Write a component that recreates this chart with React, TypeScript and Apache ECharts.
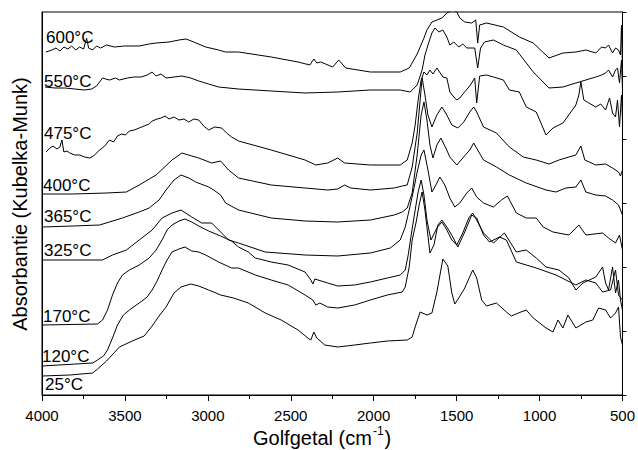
import React, { useEffect, useRef } from "react";
import * as echarts from "echarts";

// Wavenumber (cm^-1) vs. Kubelka-Munk absorbance (arbitrary, stacked offsets)
const s600: number[][] = [[3976,343],[3940,345],[3916,347],[3892,344],[3868,348],[3844,346],[3821,349],[3797,345],[3773,348],[3749,346],[3731,357],[3719,347],[3695,345],[3671,349],[3647,347],[3611,350],[3563,348],[3503,349],[3414,349],[3354,351],[3312,352],[3234,353],[3174,355],[3132,356],[3085,353],[3013,348],[2935,345],[2893,343],[2815,343],[2618,338],[2456,333],[2385,330],[2361,336],[2343,332],[2319,333],[2247,328],[2211,335],[2169,327],[2020,323],[1840,323],[1786,327],[1738,341],[1697,357],[1679,365],[1649,373],[1619,375],[1589,377],[1559,382],[1523,385],[1499,383],[1481,377],[1451,373],[1409,372],[1385,375],[1373,352],[1361,370],[1320,372],[1218,368],[1122,358],[1038,352],[943,337],[859,342],[781,343],[721,345],[661,342],[626,348],[602,347],[584,350],[560,342],[542,347],[524,345],[512,340],[506,370],[500,325]];

const s550: number[][] = [[3982,308],[3922,307],[3862,307],[3803,306],[3743,305],[3701,306],[3671,309],[3653,313],[3635,317],[3617,316],[3593,315],[3557,317],[3533,315],[3485,317],[3444,318],[3402,318],[3366,320],[3336,323],[3312,319],[3282,321],[3252,317],[3204,318],[3156,319],[3103,317],[3055,314],[2995,311],[2935,308],[2815,306],[2618,304],[2414,302],[2217,303],[2020,305],[1840,305],[1780,303],[1738,310],[1708,325],[1691,340],[1667,353],[1649,362],[1631,367],[1607,363],[1583,365],[1559,358],[1541,350],[1517,353],[1487,348],[1463,351],[1439,347],[1391,347],[1373,327],[1356,347],[1332,353],[1278,355],[1218,350],[1140,345],[1038,323],[943,307],[859,308],[781,312],[721,315],[661,318],[626,320],[602,322],[584,325],[560,318],[542,325],[530,327],[518,312],[506,335],[500,305]];

const s475: number[][] = [[3976,243],[3952,247],[3934,249],[3910,246],[3892,248],[3880,255],[3868,243],[3850,244],[3832,242],[3803,240],[3773,240],[3743,238],[3713,237],[3689,239],[3671,242],[3653,245],[3635,247],[3617,250],[3593,255],[3569,253],[3545,259],[3521,261],[3497,260],[3473,264],[3444,265],[3414,267],[3384,269],[3354,271],[3336,274],[3306,276],[3282,277],[3258,279],[3234,276],[3204,278],[3174,275],[3144,276],[3115,273],[3085,276],[3055,275],[3025,269],[2995,265],[2959,268],[2917,267],[2887,262],[2857,258],[2815,254],[2618,245],[2414,235],[2349,230],[2277,232],[2217,237],[2175,232],[2020,230],[1840,230],[1798,235],[1768,252],[1750,270],[1732,295],[1714,315],[1697,323],[1679,320],[1661,325],[1643,321],[1619,327],[1583,318],[1559,317],[1541,303],[1517,298],[1499,295],[1481,297],[1457,302],[1421,309],[1391,317],[1379,292],[1361,319],[1320,320],[1278,318],[1218,315],[1182,305],[1122,303],[1080,288],[1020,283],[961,260],[919,267],[859,272],[811,283],[781,290],[763,300],[751,313],[733,295],[703,292],[661,288],[631,291],[602,285],[578,297],[560,282],[542,278],[530,295],[518,268],[506,300],[500,275]];

const s400: number[][] = [[4000,201],[3815,201],[3611,202],[3491,203],[3414,210],[3312,220],[3216,235],[3156,242],[3097,239],[3055,237],[2977,232],[2923,234],[2875,225],[2815,217],[2618,210],[2414,207],[2277,205],[2217,206],[2175,210],[2139,207],[2020,205],[1876,207],[1828,209],[1798,210],[1768,228],[1738,262],[1720,295],[1708,317],[1691,300],[1673,280],[1649,268],[1619,280],[1589,288],[1559,280],[1529,270],[1493,267],[1457,273],[1421,283],[1397,288],[1379,283],[1338,268],[1260,262],[1182,248],[1098,238],[1020,235],[943,231],[883,235],[823,238],[781,240],[751,249],[727,235],[661,230],[602,231],[560,227],[524,223],[512,219],[500,225]];

const s365: number[][] = [[4000,168],[3815,169],[3653,170],[3515,177],[3414,183],[3354,187],[3294,195],[3252,205],[3204,215],[3162,220],[3115,217],[3073,213],[2995,208],[2965,205],[2923,200],[2893,192],[2815,185],[2618,177],[2414,174],[2217,173],[2020,175],[1876,180],[1828,183],[1798,187],[1768,202],[1738,240],[1714,280],[1697,293],[1679,275],[1661,250],[1643,237],[1619,250],[1595,257],[1565,247],[1541,238],[1499,230],[1463,237],[1421,245],[1397,252],[1373,245],[1338,235],[1260,228],[1182,220],[1080,212],[961,205],[901,203],[841,207],[781,208],[751,215],[721,203],[661,200],[602,199],[560,195],[524,190],[512,185],[500,180]];

const s325: number[][] = [[4000,135],[3635,135],[3575,140],[3491,145],[3414,155],[3336,165],[3276,177],[3216,182],[3162,185],[3097,178],[3037,172],[2977,172],[2935,165],[2875,155],[2815,152],[2654,143],[2414,140],[2217,139],[2020,142],[1900,147],[1840,155],[1810,168],[1786,185],[1762,203],[1738,223],[1714,240],[1697,245],[1673,225],[1649,203],[1625,210],[1601,218],[1571,210],[1541,197],[1511,188],[1481,192],[1439,202],[1409,207],[1379,198],[1338,192],[1278,188],[1230,195],[1194,199],[1140,182],[1080,177],[1020,177],[978,168],[919,163],[823,160],[763,170],[721,160],[620,162],[584,157],[542,152],[518,160],[500,145]];

const s170: number[][] = [[4000,70],[3665,71],[3635,75],[3605,85],[3575,100],[3545,112],[3515,120],[3473,125],[3414,130],[3354,137],[3312,145],[3276,155],[3246,165],[3216,170],[3174,174],[3138,176],[3097,173],[3055,169],[2995,164],[2923,159],[2857,154],[2815,148],[2756,143],[2714,137],[2618,133],[2516,130],[2414,123],[2379,115],[2367,111],[2355,116],[2277,112],[2217,109],[2115,110],[2020,113],[1918,117],[1840,120],[1810,125],[1792,140],[1774,160],[1750,185],[1732,203],[1714,215],[1697,200],[1679,175],[1655,155],[1619,167],[1589,173],[1559,165],[1529,155],[1499,150],[1463,162],[1427,177],[1403,182],[1373,173],[1338,162],[1278,152],[1212,162],[1140,143],[1080,145],[1020,137],[961,128],[883,125],[823,117],[781,105],[739,112],[661,118],[620,128],[602,112],[584,105],[560,128],[542,102],[524,115],[512,95],[500,85]];

const s120: number[][] = [[4000,29],[3695,32],[3665,35],[3629,39],[3605,45],[3575,57],[3545,70],[3509,80],[3473,85],[3414,92],[3366,98],[3336,105],[3306,114],[3276,125],[3246,135],[3216,143],[3174,146],[3138,148],[3097,144],[3055,143],[3013,140],[2935,133],[2857,127],[2815,127],[2714,120],[2618,115],[2516,110],[2414,100],[2367,95],[2349,90],[2325,92],[2277,88],[2217,87],[2115,90],[2020,95],[1918,100],[1828,103],[1810,108],[1786,128],[1768,155],[1744,173],[1726,190],[1708,203],[1691,185],[1661,142],[1637,150],[1613,170],[1589,175],[1559,168],[1523,158],[1493,148],[1451,163],[1409,180],[1379,177],[1338,160],[1302,153],[1242,158],[1200,155],[1140,133],[1020,127],[901,120],[781,110],[721,115],[661,112],[620,103],[572,105],[542,125],[524,100],[500,95]];

const s25: number[][] = [[4000,19],[3832,20],[3695,22],[3665,26],[3611,34],[3533,48],[3456,54],[3384,59],[3336,69],[3294,79],[3252,88],[3204,102],[3162,108],[3103,111],[3055,109],[2995,105],[2923,100],[2845,97],[2756,92],[2654,82],[2558,75],[2456,65],[2397,57],[2379,55],[2361,63],[2343,57],[2295,50],[2217,48],[2115,50],[2020,52],[1918,54],[1798,55],[1768,58],[1750,68],[1720,83],[1679,80],[1649,82],[1619,103],[1583,136],[1553,129],[1529,102],[1511,91],[1487,97],[1451,107],[1403,125],[1379,117],[1349,95],[1320,89],[1260,92],[1200,83],[1170,79],[1128,82],[1080,85],[1038,77],[961,67],[919,63],[889,75],[859,67],[829,80],[781,67],[721,73],[679,75],[644,87],[602,85],[572,77],[542,82],[524,88],[512,58],[500,50]];

const temperatures = ["600°C", "550°C", "475°C", "400°C", "365°C", "325°C", "170°C", "120°C", "25°C"];
const spectra = [s600, s550, s475, s400, s365, s325, s170, s120, s25];
const xMin = 500;
const xMax = 4000;
const xStep = 500;
const yMax = 383;

const FONT = '"Liberation Sans", Arial, Helvetica, sans-serif';

export default function App() {
  const ref = useRef<HTMLDivElement>(null);

  useEffect(() => {
    document.body.style.margin = "0";
    if (!ref.current) return;
    const chart = echarts.init(ref.current, undefined, { renderer: "svg" });

    const labelPos = [
      [46, 37], [44, 81], [44, 133], [43, 185], [44, 216], [44, 250], [43, 316], [42, 356], [45, 384],
    ];

    const option: any = {
      animation: false,
      backgroundColor: "#fff",
      grid: {
        left: 42, right: 11, top: 12, bottom: 55,
        show: true, borderColor: "#000", borderWidth: 1, backgroundColor: "transparent",
      },
      xAxis: {
        type: "value",
        min: xMin,
        max: xMax,
        interval: xStep,
        inverse: true,
        axisLine: { show: true, lineStyle: { color: "#000", width: 1 } },
        axisTick: { show: true, inside: false, length: 6, lineStyle: { color: "#000" } },
        minorTick: { show: true, splitNumber: 2, length: 4, lineStyle: { color: "#000" } },
        splitLine: { show: false },
        axisLabel: {
          color: "#000", fontSize: 15, fontFamily: FONT, margin: 13,
          formatter: (v: number) => String(v),
        },
      },
      yAxis: [
        {
          type: "value",
          min: 0,
          max: yMax,
          position: "left",
          axisLine: { show: true, lineStyle: { color: "#000" } },
          axisTick: { show: false },
          axisLabel: { show: false },
          splitLine: { show: false },
        },
        {
          type: "value",
          min: 0,
          max: yMax,
          interval: yMax / 6,
          position: "right",
          axisLine: { show: true, lineStyle: { color: "#000" } },
          axisTick: { show: true, inside: false, length: 4, lineStyle: { color: "#000" } },
          axisLabel: { show: false },
          splitLine: { show: false },
        },
      ],
      series: spectra.map((d, i) => ({
        name: temperatures[i],
        type: "line",
        data: d,
        yAxisIndex: 0,
        showSymbol: false,
        symbol: "none",
        clip: true,
        lineStyle: { color: "#000", width: 1 },
        z: 2,
      })),
      graphic: [
        ...temperatures.map((t, i) => ({
          type: "text",
          x: labelPos[i][0],
          y: labelPos[i][1],
          style: {
            text: t,
            fontSize: 17,
            fontFamily: FONT,
            fill: "#000",
            textAlign: "left",
            textVerticalAlign: "middle",
          },
          z: 10,
        })),
        {
          type: "text",
          x: 20,
          y: 204,
          rotation: Math.PI / 2,
          style: {
            text: "Absorbantie (Kubelka-Munk)",
            fontSize: 20,
            fontFamily: FONT,
            fill: "#000",
            textAlign: "center",
            textVerticalAlign: "middle",
          },
        },
        {
          type: "text",
          x: 253,
          y: 438,
          style: {
            text: "{a|Golfgetal (cm}{s|-1}{a|)}",
            fontFamily: FONT,
            fill: "#000",
            textAlign: "left",
            textVerticalAlign: "middle",
            rich: {
              a: { fontSize: 20, fontFamily: FONT, fill: "#000" },
              s: { fontSize: 12, fontFamily: FONT, fill: "#000", padding: [0, 1, 14, 1] },
            },
          },
        },
      ],
    };

    chart.setOption(option);
    return () => chart.dispose();
  }, []);

  return <div ref={ref} style={{ width: 638, height: 450 }} />;
}
